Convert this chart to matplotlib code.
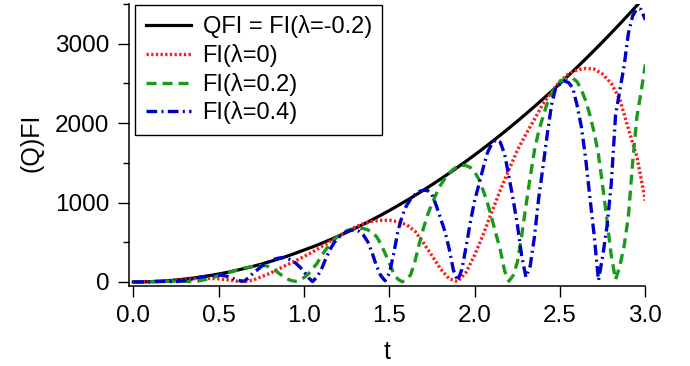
import matplotlib
matplotlib.use("Agg")
import matplotlib.pyplot as plt

# values
t_coarse = [0.00, 0.05, 0.10, 0.15, 0.20, 0.25, 0.30, 0.35, 0.40, 0.45,
            0.50, 0.55, 0.60, 0.65, 0.70, 0.75, 0.80, 0.85, 0.90, 0.95,
            1.00, 1.05, 1.10, 1.15, 1.20, 1.25, 1.30, 1.35, 1.40, 1.45,
            1.50, 1.55, 1.60, 1.65, 1.70, 1.75, 1.80, 1.85, 1.90, 1.95,
            2.00, 2.05, 2.10, 2.15, 2.20, 2.25, 2.30, 2.35, 2.40, 2.45,
            2.50, 2.55, 2.60, 2.65, 2.70, 2.75, 2.80, 2.85, 2.90, 2.95,
            3.00]
qfi = [0, 1, 4, 9, 16, 25, 36, 49, 64, 81,
       100, 121, 144, 169, 196, 225, 256, 290, 324, 362,
       402, 441, 484, 529, 576, 625, 676, 729, 784, 841,
       900, 961, 1024, 1089, 1156, 1225, 1296, 1369, 1444, 1521,
       1600, 1681, 1764, 1849, 1936, 2025, 2116, 2209, 2304, 2401,
       2500, 2601, 2704, 2809, 2916, 3025, 3136, 3249, 3364, 3481,
       3600]
fi_0 = [0, 0, 2, 6, 12, 20, 30, 40, 46, 46,
        40, 28, 12, 3, 22, 65, 108, 162, 215, 265,
        320, 378, 440, 508, 575, 635, 690, 735, 763, 776,
        778, 758, 722, 640, 490, 330, 165, 40, 5, 125,
        340, 600, 880, 1157, 1410, 1660, 1860, 2050, 2240, 2390,
        2530, 2620, 2670, 2690, 2680, 2615, 2500, 2300, 1930, 1576,
        1020]

t_fine = [0.000, 0.025, 0.050, 0.075, 0.100, 0.125, 0.150, 0.175, 0.200, 0.225,
          0.250, 0.275, 0.300, 0.325, 0.350, 0.375, 0.400, 0.425, 0.450, 0.475,
          0.500, 0.525, 0.550, 0.575, 0.600, 0.625, 0.650, 0.675, 0.700, 0.725,
          0.750, 0.775, 0.800, 0.825, 0.850, 0.875, 0.900, 0.925, 0.950, 0.975,
          1.000, 1.025, 1.050, 1.075, 1.100, 1.125, 1.150, 1.175, 1.200, 1.225,
          1.250, 1.275, 1.300, 1.325, 1.350, 1.375, 1.400, 1.425, 1.450, 1.475,
          1.500, 1.525, 1.550, 1.575, 1.600, 1.625, 1.650, 1.675, 1.700, 1.725,
          1.750, 1.775, 1.800, 1.825, 1.850, 1.875, 1.900, 1.925, 1.950, 1.975,
          2.000, 2.025, 2.050, 2.075, 2.100, 2.125, 2.150, 2.175, 2.200, 2.225,
          2.250, 2.275, 2.300, 2.325, 2.350, 2.375, 2.400, 2.425, 2.450, 2.475,
          2.500, 2.525, 2.550, 2.575, 2.600, 2.625, 2.650, 2.675, 2.700, 2.725,
          2.750, 2.775, 2.800, 2.825, 2.850, 2.875, 2.900, 2.925, 2.950, 2.975,
          3.000]
fi_02 = [0, 0, 1, 2, 3, 5, 6, 7, 8, 8,
         8, 8, 8, 6, 5, 10, 20, 32, 46, 62,
         80, 98, 114, 128, 145, 160, 174, 186, 196, 204,
         208, 205, 188, 155, 115, 75, 40, 18, 8, 25,
         55, 100, 165, 230, 320, 400, 470, 530, 578, 615,
         645, 662, 672, 676, 672, 655, 625, 570, 480, 360,
         240, 110, 35, 2, 30, 90, 260, 480, 680, 850,
         990, 1110, 1220, 1300, 1370, 1420, 1455, 1470, 1465, 1440,
         1385, 1290, 1150, 990, 800, 600, 402, 140, 10, 80,
         250, 580, 960, 1320, 1660, 1900, 2080, 2250, 2380, 2460,
         2520, 2550, 2570, 2565, 2520, 2420, 2280, 2100, 1880, 1600,
         1200, 780, 330, 30, 200, 450, 821, 1500, 2080, 2400,
         2740]
fi_04 = [0, 0, 1, 2, 3, 5, 6, 6, 5, 4,
         5, 10, 18, 28, 40, 52, 62, 70, 78, 84,
         86, 82, 70, 52, 30, 15, 10, 55, 108, 150,
         195, 230, 262, 285, 300, 306, 300, 275, 240, 190,
         130, 55, 5, 60, 150, 280, 400, 490, 555, 600,
         633, 652, 655, 635, 585, 500, 360, 200, 80, 15,
         110, 350, 640, 830, 960, 1045, 1100, 1140, 1155, 1150,
         1100, 960, 800, 640, 420, 150, 15, 160, 450, 760,
         1030, 1230, 1440, 1630, 1740, 1790, 1760, 1610, 1330, 1040,
         720, 330, 60, 200, 570, 1060, 1450, 1860, 2230, 2450,
         2490, 2530, 2510, 2440, 2220, 1950, 1550, 1060, 580, 20,
         330, 700, 1240, 2100, 2410, 2720, 3128, 3350, 3440, 3430,
         3300]

labels = ["QFI = FI(λ=-0.2)", "FI(λ=0)", "FI(λ=0.2)", "FI(λ=0.4)"]
x_ticks = [0.0, 0.5, 1.0, 1.5, 2.0, 2.5, 3.0]
x_ticklabels = ["0.0", "0.5", "1.0", "1.5", "2.0", "2.5", "3.0"]
y_ticks = [0, 1000, 2000, 3000]
y_minor = [500, 1500, 2500, 3500]

plt.rcParams["font.family"] = ["Liberation Sans", "DejaVu Sans"]

fig = plt.figure(figsize=(6.9, 3.66), dpi=100)
ax = fig.add_axes([0.187, 0.2194, 0.7484, 0.7697])

ax.plot(t_coarse, qfi, color="black", lw=2.3, label=labels[0])
ax.plot(t_coarse, fi_0, color="#ff1a1a", lw=2.4, ls=(0, (0.7, 0.7)), label=labels[1])
ax.plot(t_fine, fi_02, color="#1a9a1a", lw=2.4, ls=(0, (3, 1.8)), label=labels[2])
ax.plot(t_fine, fi_04, color="#0000cc", lw=2.4, ls=(0, (3.2, 1.3, 0.6, 1.3)), label=labels[3])

ax.set_xlim(-0.025, 3.0)
ax.set_ylim(-47, 3500)
for side in ["top", "right"]:
    ax.spines[side].set_visible(False)
for side in ["left", "bottom"]:
    ax.spines[side].set_linewidth(1.1)

ax.set_xticks(x_ticks)
ax.set_xticklabels(x_ticklabels)
ax.set_yticks(y_ticks)
ax.set_yticks(y_minor, minor=True)
ax.tick_params(which="major", direction="out", length=8, width=1, labelsize=17.5, pad=6)
ax.tick_params(which="minor", direction="out", length=4, width=1)

ax.set_xlabel("t", fontsize=18, labelpad=9.5)
ax.set_ylabel("(Q)FI", fontsize=18)
ax.yaxis.set_label_coords(-0.165, 0.507)

leg = ax.legend(loc="upper left", bbox_to_anchor=(0.012, 0.997), fontsize=17,
                frameon=True, fancybox=False, edgecolor="black", framealpha=1,
                handlelength=1.9, handletextpad=0.5, labelspacing=0.24,
                borderpad=0.45, borderaxespad=0)
leg.get_frame().set_linewidth(1.0)

fig.savefig("out.png", dpi=100)
